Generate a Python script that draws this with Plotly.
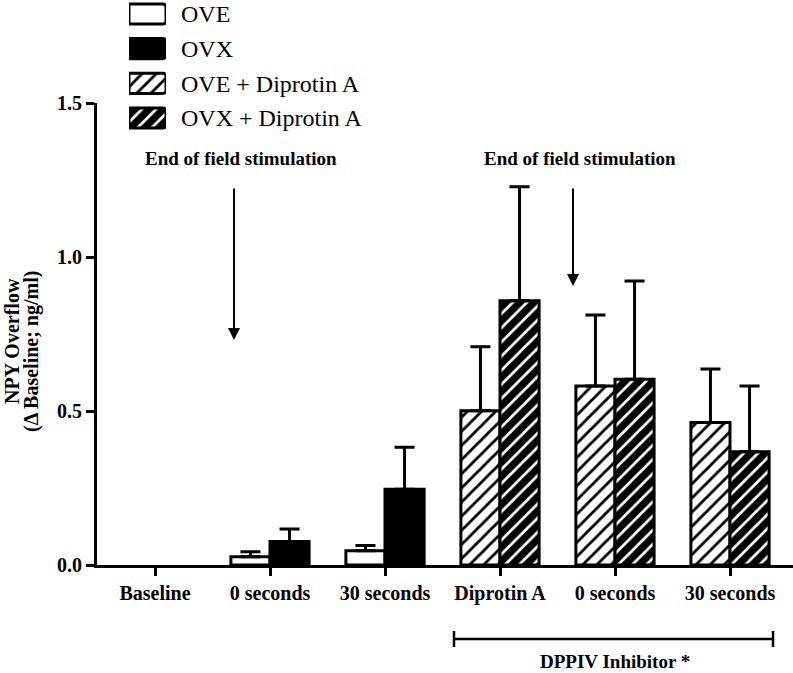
import plotly.graph_objects as go

# ---------------- data ----------------
categories = ["Baseline", "0 seconds", "30 seconds", "Diprotin A", "0 seconds", "30 seconds"]
x_pos = list(range(len(categories)))

series_names = ["OVE", "OVX", "OVE + Diprotin A", "OVX + Diprotin A"]

# first three categories: OVE / OVX ; last three: with Diprotin A
# (Baseline: change from baseline is zero, no bar is drawn)
ove_mean = [None, 0.027, 0.046]
ove_err = [None, 0.016, 0.017]
ovx_mean = [None, 0.076, 0.246]
ovx_err = [None, 0.041, 0.136]
ove_dip_mean = [0.501, 0.581, 0.463]
ove_dip_err = [0.208, 0.231, 0.173]
ovx_dip_mean = [0.858, 0.603, 0.368]
ovx_dip_err = [0.370, 0.319, 0.213]

y_ticks = [0.0, 0.5, 1.0, 1.5]

# ---------------- styling ----------------
SERIF = "Liberation Serif"
W, H = 793, 673
ML, MB = 97, 108
PH = H - MB  # plot area height (margin top 0)
BAR_W = 0.34

styles = {
    "OVE": dict(bg="white", fg="black", shape="", sol=0.3),
    "OVX": dict(bg="black", fg="black", shape="", sol=0.3),
    "OVE + Diprotin A": dict(bg="white", fg="black", shape="/", sol=0.28),
    "OVX + Diprotin A": dict(bg="white", fg="black", shape="/", sol=0.72),
}


def marker_for(name):
    s = styles[name]
    return dict(
        color=s["bg"],
        line=dict(color="black", width=3),
        pattern=dict(shape=s["shape"], bgcolor=s["bg"], fgcolor=s["fg"],
                     size=10, solidity=s["sol"], fillmode="replace"),
    )


fig = go.Figure()

groups = [
    ("OVE", x_pos[:3], ove_mean, ove_err, -BAR_W),
    ("OVX", x_pos[:3], ovx_mean, ovx_err, 0.0),
    ("OVE + Diprotin A", x_pos[3:], ove_dip_mean, ove_dip_err, -BAR_W),
    ("OVX + Diprotin A", x_pos[3:], ovx_dip_mean, ovx_dip_err, 0.0),
]
for name, xs, ys, es, off in groups:
    fig.add_trace(go.Bar(
        x=xs, y=ys, name=name, width=BAR_W, offset=off,
        marker=marker_for(name),
        error_y=dict(type="data", symmetric=False, array=es,
                     arrayminus=[None if e is None else 0 for e in es],
                     color="black", thickness=3, width=10),
        showlegend=False, xaxis="x", yaxis="y",
    ))

# legend drawn as a tiny subplot of patterned swatches
for name in series_names:
    fig.add_trace(go.Bar(
        x=[1], y=[name], orientation="h", width=0.58,
        marker=dict(**marker_for(name), cornerradius=3),
        showlegend=False, xaxis="x2", yaxis="y2", hoverinfo="skip",
    ))


def py(p):
    return (PH - p) / PH


def px(p):
    return (p - ML) / (W - ML)


x0cat, dx = 155, 115


def cx(p):
    return (p - x0cat) / dx


fig.update_layout(
    template="none",
    width=W, height=H,
    margin=dict(l=ML, r=0, t=0, b=MB, autoexpand=False),
    plot_bgcolor="white", paper_bgcolor="white",
    barmode="overlay",
    font=dict(family=SERIF, color="black"),
    xaxis=dict(
        domain=[0, 1], range=[cx(97), cx(793)], automargin=False,
        tickvals=x_pos, ticktext=categories,
        showline=True, linecolor="black", linewidth=3,
        ticks="outside", ticklen=8, tickwidth=2.5, tickcolor="black",
        showgrid=False, zeroline=False,
        tickfont=dict(family=SERIF, size=20, color="black", weight="bold"),
    ),
    yaxis=dict(
        domain=[0, py(103)], range=[0, 1.5], automargin=False,
        tickvals=y_ticks, tickformat=".1f",
        showline=True, linecolor="black", linewidth=3,
        ticks="outside", ticklen=8, tickwidth=2.5, tickcolor="black",
        showgrid=False, zeroline=False,
        tickfont=dict(family=SERIF, size=20, color="black", weight="bold"),
    ),
    xaxis2=dict(domain=[px(129), px(166)], range=[0, 1], anchor="y2",
                visible=False, automargin=False),
    yaxis2=dict(domain=[py(130), py(2)], anchor="x2", type="category",
                categoryorder="array", categoryarray=series_names,
                range=[3.346, -0.346], side="right", automargin=False,
                showline=False, showgrid=False, zeroline=False, ticks="",
                ticklabelstandoff=14,
                tickfont=dict(family=SERIF, size=24, color="black")),
)

bold = dict(family=SERIF, size=19, color="black", weight="bold")
title_font = dict(family=SERIF, size=20, color="black", weight="bold")

# axis title (two lines)
fig.add_annotation(xref="paper", yref="paper", x=px(12), y=py(341),
                   text="NPY Overflow", textangle=-90, showarrow=False,
                   font=title_font, xanchor="center", yanchor="middle")
fig.add_annotation(xref="paper", yref="paper", x=px(31), y=py(352),
                   text="(Δ Baseline; ng/ml)", textangle=-90, showarrow=False,
                   font=title_font, xanchor="center", yanchor="middle")

# stimulation arrows
for tx in (cx(241), cx(580)):
    fig.add_annotation(x=tx, y=(565 - 158) / 308, xref="x", yref="y",
                       text="End of field stimulation", showarrow=False,
                       font=bold)
for ax_, tip in [(cx(234), (565 - 340) / 308), (cx(573), (565 - 286) / 308)]:
    fig.add_annotation(x=ax_, y=tip, xref="x", yref="y",
                       ax=ax_, ay=(565 - 187) / 308, axref="x", ayref="y",
                       text="", showarrow=True, arrowhead=2, arrowsize=1.2,
                       arrowwidth=2, arrowcolor="black")

# DPPIV inhibitor bracket
bx0, bx1 = cx(454), cx(773)
fig.add_shape(type="line", xref="x", yref="paper", x0=bx0, x1=bx1,
              y0=py(639), y1=py(639), line=dict(color="black", width=2.5))
for bx in (bx0, bx1):
    fig.add_shape(type="line", xref="x", yref="paper", x0=bx, x1=bx,
                  y0=py(631), y1=py(647), line=dict(color="black", width=2.5))
fig.add_annotation(xref="x", yref="paper", x=cx(615), y=py(661),
                   text="DPPIV Inhibitor *", showarrow=False, font=bold,
                   yanchor="middle")

fig.write_html(
    "out.html",
    config={"displayModeBar": False},
    post_script="document.documentElement.style.margin='0';"
                "document.body.style.margin='0';"
                "document.body.style.overflow='hidden';",
)
